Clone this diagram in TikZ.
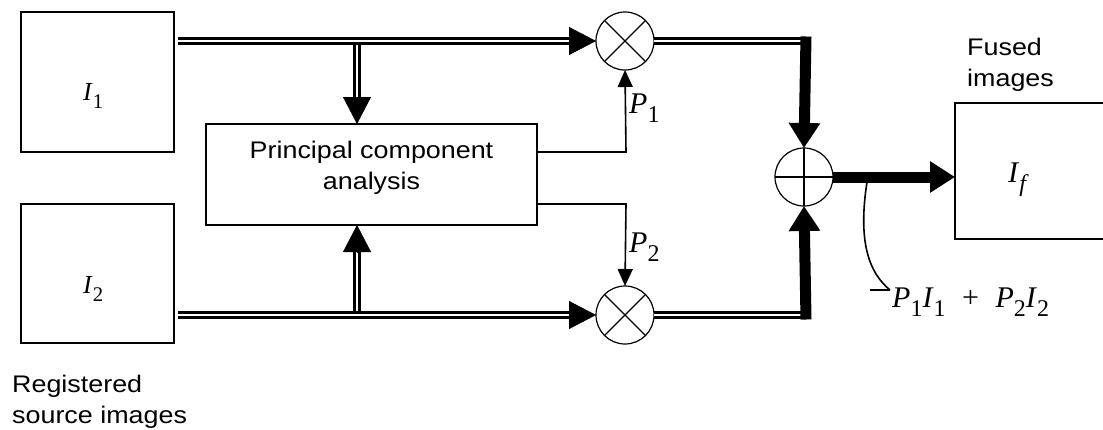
\documentclass[tikz,border=0pt]{standalone}
\usepackage{fontspec}
\usepackage{graphicx}
\setmainfont{Liberation Serif}
\newfontfamily\lab[FakeStretch=1.12]{Liberation Sans}
\usetikzlibrary{arrows.meta,calc}
\newcommand\iv[2]{\textit{#1}\raisebox{-0.32em}{\scalebox{0.8}{#2}}}
\tikzset{
  imgbox/.style={draw, line width=1.4pt, inner sep=0pt, outer sep=0pt},
  opnode/.style={draw, circle, line width=1.2pt, minimum size=58pt, inner sep=0pt, outer sep=0pt},
  dbl/.style={double, line width=3.2pt, double distance=1.8pt},
  dbltip/.style={-{Triangle[width=28pt,length=27pt]}, line width=0.4pt},
  thinarrow/.style={line width=1.6pt, -{Triangle[width=15pt,length=17pt]}},
  thk/.style={line width=11pt, -{Triangle[width=30pt,length=25pt]}},
  txt/.style={font=\lab\fontsize{24}{31}\selectfont, inner sep=0pt, align=left},
  mlab/.style={inner sep=0pt, anchor=base west},
}
\begin{document}
\begin{tikzpicture}[x=1pt,y=-1pt]
\useasboundingbox (0,0) rectangle (1103,429);
% boxes
\node[imgbox, minimum width=153pt, minimum height=140pt] (I1) at (97.5,82) {};
\node[imgbox, minimum width=153pt, minimum height=139pt] (I2) at (97.5,273.5) {};
\node[imgbox, minimum width=331pt, minimum height=101pt] (pca) at (371.5,174.5) {};
\node[imgbox, minimum width=155pt, minimum height=136pt] (If) at (1032.5,171) {};
% operators
\node[opnode] (mulA) at (625,41) {};
\node[opnode] (mulB) at (625,315) {};
\node[opnode] (add) at (804,177) {};
\draw[line width=1.2pt] (mulA.north west) -- (mulA.south east) (mulA.north east) -- (mulA.south west);
\draw[line width=1.2pt] (mulB.north west) -- (mulB.south east) (mulB.north east) -- (mulB.south west);
\draw[line width=1.2pt] (add.north) -- (add.south) (add.west) -- (add.east);
% labels
\node[mlab, font=\fontsize{26}{26}\selectfont] (l1) at (83,100) {\iv{I}{1}};
\node[mlab, font=\fontsize{26}{26}\selectfont] (l2) at (83,293) {\iv{I}{2}};
\node[mlab, font=\fontsize{30}{30}\selectfont] (lf) at (1008,182) {\iv{I}{\textit{f}}};
\node[mlab, font=\fontsize{30}{30}\selectfont] (lp1) at (629,113) {\iv{P}{1}};
\node[mlab, font=\fontsize{30}{30}\selectfont] (lp2) at (629,252) {\iv{P}{2}};
\node[mlab, font=\fontsize{30}{30}\selectfont] (sum) at (892,307) {\iv{P}{1}\iv{I}{1}\hspace{0.55em}+\hspace{0.55em}\iv{P}{2}\iv{I}{2}};
\node[txt, align=center] (pcat) at (371.5,167.5) {Principal component\\analysis};
\node[txt, anchor=north west] (reg) at (12,375) {Registered\\source images};
\node[txt, anchor=north west] (fus) at (967,38) {Fused\\images};
% coordinates
\coordinate (s1) at (178,41);
\coordinate (s2) at (178,315);
\coordinate (b1) at (357,41);
\coordinate (b2) at (357,315);
\coordinate (cA) at (806,41);
\coordinate (cB) at (806,315);
\coordinate (p1) at (626,152);
\coordinate (p2) at (626,204);
\coordinate (k0) at (867,182);
\coordinate (k1) at (890,290);
\coordinate (k2) at (870,290);
% branches to PCA
\draw[dbl, shorten >=26pt] (b1) -- (b1 |- pca.north);
\draw[dbltip] ($(b1 |- pca.north)+(0,-27)$) -- (b1 |- pca.north);
\draw[dbl, shorten >=26pt] (b2) -- (b2 |- pca.south);
\draw[dbltip] ($(b2 |- pca.south)+(0,27)$) -- (b2 |- pca.south);
% main inputs
\draw[dbl, shorten >=26pt] (s1) -- (mulA.west);
\draw[dbltip] ($(mulA.west)+(-27,0)$) -- (mulA.west);
\draw[dbl, shorten >=26pt] (s2) -- (mulB.west);
\draw[dbltip] ($(mulB.west)+(-27,0)$) -- (mulB.west);
% weights
\draw[thinarrow] (pca.east |- p1) -- (p1) -- (mulA.south);
\draw[thinarrow] (pca.east |- p2) -- (p2) -- (mulB.north);
% to adder
\draw[dbl] (mulA.east) -- (cA);
\draw[dbl] (mulB.east) -- (cB);
\draw[thk] ($(cA)+(0,-4.5)$) -- (add.north);
\draw[thk] ($(cB)+(0,4.5)$) -- (add.south);
% output
\draw[thk] (add.east) -- (add.east -| If.west);
% annotation
\draw[line width=1.6pt] (k0) .. controls (858,240) and (868,272) .. (k1);
\draw[line width=2.2pt] (k2) -- (k1);
\end{tikzpicture}
\end{document}
